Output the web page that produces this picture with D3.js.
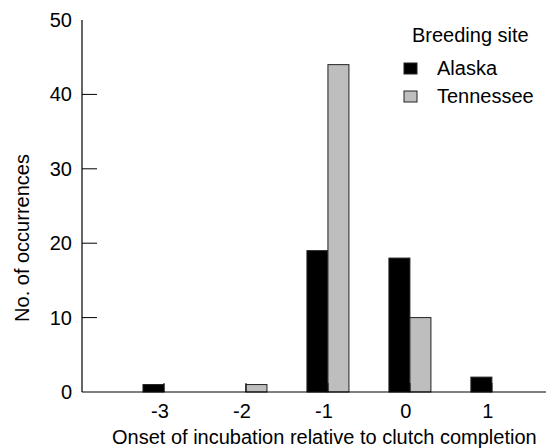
<!DOCTYPE html>
<html>
<head>
<meta charset="utf-8">
<script src="https://cdn.jsdelivr.net/npm/d3@7"></script>
<style>
  body { margin: 0; background: #fff; }
  text { font-family: "Liberation Sans", Arial, sans-serif; fill: #000; }
</style>
</head>
<body>
<div id="chart"></div>
<script>
// onset categories (days relative to clutch completion)
var onsets = [-3, -2, -1, 0, 1];
var alaska = [1, 0, 19, 18, 2];
var tennessee = [0, 1, 44, 10, 0];
var seriesNames = ["Alaska", "Tennessee"];
var yTicks = [0, 10, 20, 30, 40, 50];

var fullWidth = 546, fullHeight = 448;
var colors = ["#000000", "#bebebe"];
var fontSize = 20;

var svg = d3.select("#chart").append("svg")
  .attr("width", fullWidth)
  .attr("height", fullHeight);

// scales
var x = d3.scaleLinear().domain([-4, 1.66]).range([82, 546]);
var y = d3.scaleLinear().domain([0, 50]).range([392, 20]);
var barW = 21;

var series = [alaska, tennessee];

// bars
series.forEach(function(vals, s) {
  svg.append("g").selectAll("rect")
    .data(vals)
    .enter()
    .append("rect")
    .attr("x", function(d, i) { return x(onsets[i]) + (s === 0 ? -barW : 0); })
    .attr("y", function(d) { return y(d); })
    .attr("width", barW)
    .attr("height", function(d) { return y(0) - y(d); })
    .attr("fill", colors[s])
    .attr("stroke", "#222")
    .attr("stroke-width", 1);
});

// x axis line with small inward ticks
svg.append("line")
  .attr("x1", 82).attr("x2", 546)
  .attr("y1", y(0)).attr("y2", y(0))
  .attr("stroke", "#000").attr("stroke-width", 1.2);

svg.append("g").selectAll("line")
  .data(onsets)
  .enter().append("line")
  .attr("x1", function(d) { return x(d); })
  .attr("x2", function(d) { return x(d); })
  .attr("y1", y(0)).attr("y2", y(0) - 9)
  .attr("stroke", "#000");

svg.append("g").selectAll("text")
  .data(onsets)
  .enter().append("text")
  .attr("x", function(d) { return x(d) - 4; })
  .attr("y", 418)
  .attr("text-anchor", "middle")
  .attr("font-size", fontSize)
  .text(function(d) { return d; });

svg.append("text")
  .attr("x", 112)
  .attr("y", 444)
  .attr("font-size", fontSize)
  .text("Onset of incubation relative to clutch completion");

// y axis
svg.append("line")
  .attr("x1", 82).attr("x2", 82)
  .attr("y1", y(50)).attr("y2", y(0))
  .attr("stroke", "#000").attr("stroke-width", 1.2);

svg.append("g").selectAll("line")
  .data(yTicks.filter(function(d) { return d > 0 && d < 50; }))
  .enter().append("line")
  .attr("x1", 82).attr("x2", 97)
  .attr("y1", function(d) { return y(d); })
  .attr("y2", function(d) { return y(d); })
  .attr("stroke", "#000");

svg.append("g").selectAll("text")
  .data(yTicks)
  .enter().append("text")
  .attr("x", 72)
  .attr("y", function(d) { return y(d) + 7; })
  .attr("text-anchor", "end")
  .attr("font-size", fontSize)
  .text(function(d) { return d; });

svg.append("text")
  .attr("transform", "translate(29,238) rotate(-90)")
  .attr("text-anchor", "middle")
  .attr("font-size", fontSize)
  .text("No. of occurrences");

// legend
var legend = svg.append("g").attr("transform", "translate(404,0)");
legend.append("text")
  .attr("x", 8).attr("y", 42)
  .attr("font-size", fontSize)
  .text("Breeding site");

seriesNames.forEach(function(name, i) {
  legend.append("rect")
    .attr("x", 0).attr("y", 63 + i * 28)
    .attr("width", 13).attr("height", 11)
    .attr("fill", colors[i])
    .attr("stroke", "#222");
  legend.append("text")
    .attr("x", 33).attr("y", 75 + i * 28)
    .attr("font-size", fontSize)
    .text(name);
});
</script>
</body>
</html>
